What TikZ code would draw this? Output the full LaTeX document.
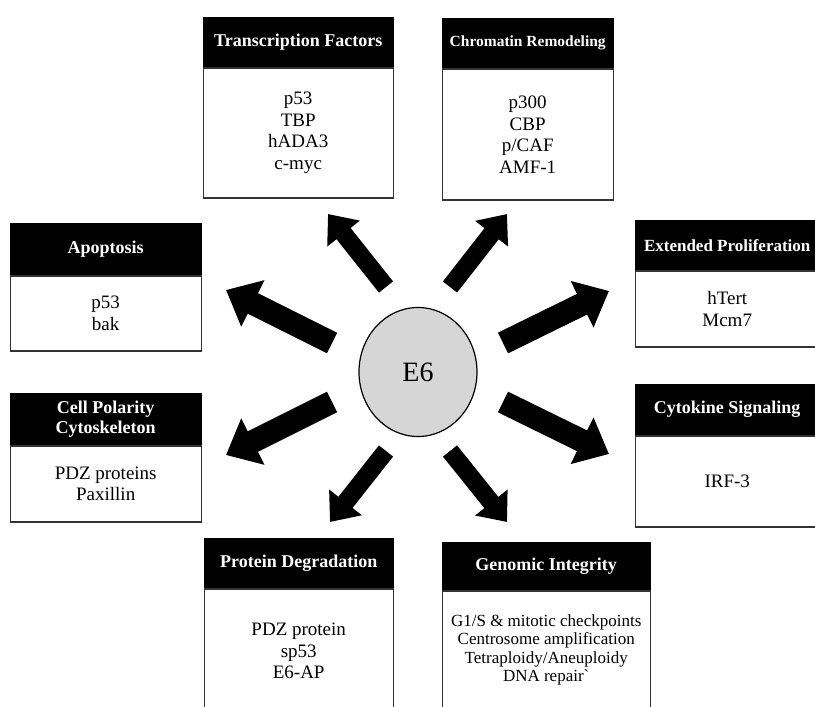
\documentclass[tikz,border=0pt]{standalone}
\usepackage{fontspec}
\setmainfont{Liberation Serif}
\usepackage{tikz}
\usetikzlibrary{arrows.meta,positioning,shapes.geometric}

\begin{document}
\begin{tikzpicture}[
    x=1pt, y=-1pt,
    node distance=0pt,
    headbox/.style={rectangle, draw=black, fill=black, text=white, anchor=north west, inner sep=0pt, align=center, font=\fontsize{18}{20}\selectfont\bfseries},
    bodybox/.style={rectangle, draw=black!80, line width=1.2pt, fill=white, inner sep=0pt, align=center, font=\fontsize{19}{21.5}\selectfont},
    bodysmall/.style={bodybox, font=\fontsize{17}{18.5}\selectfont},
    core/.style={ellipse, draw, line width=1.2pt, fill=black!16, minimum width=118pt, minimum height=129pt, font=\fontsize{28}{30}\selectfont},
    fatarrow/.style={line width=23pt, -{Triangle[width=50pt,length=30pt]}},
    thinarrow/.style={line width=18pt, -{Triangle[width=40pt,length=25pt]}}
]
\useasboundingbox (0,0) rectangle (815,707);
\clip (0,0) rectangle (815,707);

% Centre
\node[core] (e6) at (418,372) {E6};

% Boxes
\node[headbox, minimum width=190pt, minimum height=50pt] (tfh) at (203,17) {Transcription Factors};
\node[bodybox, below=of tfh, minimum width=190pt, minimum height=130pt] (tf) {p53\\TBP\\hADA3\\c-myc};

\node[headbox, minimum width=171pt, minimum height=50pt, font=\fontsize{15.5}{18}\selectfont\bfseries] (crh) at (442,18) {Chromatin Remodeling};
\node[bodybox, below=of crh, minimum width=171pt, minimum height=131pt] (cr) {p300\\CBP\\p/CAF\\AMF-1};

\node[headbox, minimum width=191pt, minimum height=52pt] (aph) at (10,223) {Apoptosis};
\node[bodybox, below=of aph, minimum width=191pt, minimum height=75pt] (ap) {p53\\bak};

\node[headbox, minimum width=191pt, minimum height=52pt] (cph) at (10,393) {Cell Polarity\\Cytoskeleton};
\node[bodybox, below=of cph, minimum width=191pt, minimum height=76pt] (cp) {PDZ proteins\\Paxillin};

\node[headbox, minimum width=184pt, minimum height=50pt, font=\fontsize{17}{19}\selectfont\bfseries] (eph) at (635,220) {Extended Proliferation};
\node[bodybox, below=of eph, minimum width=184pt, minimum height=76pt] (ep) {hTert\\Mcm7};

\node[headbox, minimum width=184pt, minimum height=51pt] (csh) at (635,384) {Cytokine Signaling};
\node[bodybox, below=of csh, minimum width=184pt, minimum height=91pt] (cs) {IRF-3};

\node[headbox, minimum width=189pt, minimum height=50pt] (pdh) at (204,538) {Protein Degradation};
\node[bodybox, below=of pdh, minimum width=189pt, minimum height=124pt] (pd) {PDZ protein\\sp53\\E6-AP};

\node[headbox, minimum width=208pt, minimum height=48pt] (gih) at (442,542) {Genomic Integrity};
\node[bodysmall, below=of gih, minimum width=208pt, minimum height=118pt] (gi) {G1/S \& mitotic checkpoints\\Centrosome amplification\\Tetraploidy/Aneuploidy\\DNA repair\textasciigrave};

% Arrow ends
\coordinate (tfa) at (386,287); \coordinate (tfb) at (328,214);
\coordinate (cra) at (450,287); \coordinate (crb) at (507,214);
\coordinate (apa) at (332,343); \coordinate (apb) at (226,290);
\coordinate (epa) at (503,343); \coordinate (epb) at (609,291);
\coordinate (cpa) at (332,402); \coordinate (cpb) at (226,455);
\coordinate (csa) at (503,402); \coordinate (csb) at (609,454);
\coordinate (pda) at (386,451); \coordinate (pdb) at (330,522);
\coordinate (gia) at (450,451); \coordinate (gib) at (507,522);

% Arrows
\draw[thinarrow] (tfa) -- (tfb);
\draw[thinarrow] (cra) -- (crb);
\draw[fatarrow] (apa) -- (apb);
\draw[fatarrow] (epa) -- (epb);
\draw[fatarrow] (cpa) -- (cpb);
\draw[fatarrow] (csa) -- (csb);
\draw[thinarrow] (pda) -- (pdb);
\draw[thinarrow] (gia) -- (gib);
\end{tikzpicture}
\end{document}
